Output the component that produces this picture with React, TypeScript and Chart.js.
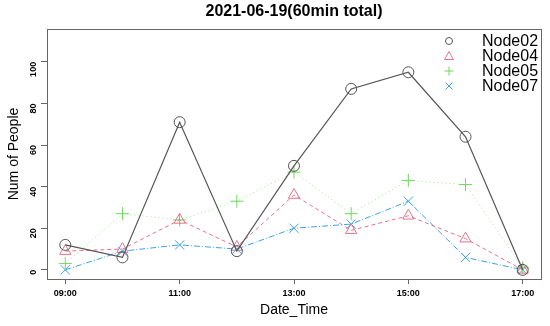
import React, { useEffect, useRef } from "react";
import { Chart, registerables } from "chart.js";

Chart.register(...registerables);

const categories = ["09:00", "10:00", "11:00", "12:00", "13:00", "14:00", "15:00", "16:00", "17:00"];
const hours = [9, 10, 11, 12, 13, 14, 15, 16, 17];
const node02 = [12, 6, 71, 9, 50, 87, 95, 64, 0];
const node04 = [9, 10, 24, 11, 36, 19, 26, 15, 0];
const node05 = [3, 27, 24, 33, 47, 27, 43, 41, 1];
const node07 = [0, 9, 12, 10, 20, 22, 33, 6, 0];
const xTickHours = [9, 11, 13, 15, 17];
const yTicks = [0, 20, 40, 60, 80, 100];
const titleText = "2021-06-19(60min total)";
const xTitle = "Date_Time";
const yTitle = "Num of People";

const FONT = "'Liberation Sans', Arial, sans-serif";

const seriesDefs = [
  { label: "Node02", data: node02, color: "#555555", line: "#555555", dash: [] as number[], style: "circle", width: 1.2 },
  { label: "Node04", data: node04, color: "#E5738A", line: "#E5738A", dash: [4, 3], style: "triangle", width: 1 },
  { label: "Node05", data: node05, color: "#6FD85C", line: "rgba(97,208,79,0.6)", dash: [1, 3], style: "cross", width: 1 },
  { label: "Node07", data: node07, color: "#3AA3EA", line: "#3AA3EA", dash: [6, 2, 1, 2], style: "crossRot", width: 1 },
];

const decorPlugin = {
  id: "decor",
  afterDraw(chart: any) {
    const { ctx, chartArea } = chart;
    const { left, right, top, bottom } = chartArea;
    ctx.save();
    ctx.strokeStyle = "#666666";
    ctx.lineWidth = 1;
    ctx.setLineDash([]);
    ctx.strokeRect(Math.round(left) + 0.5, Math.round(top) + 0.5, Math.round(right - left), Math.round(bottom - top));
    const cx = (left + right) / 2;
    ctx.fillStyle = "#000000";
    ctx.textAlign = "center";
    ctx.textBaseline = "middle";
    ctx.font = `bold 16px ${FONT}`;
    ctx.fillText(titleText, cx, 12);
    ctx.font = `14px ${FONT}`;
    ctx.fillText(xTitle, cx, 310);
    ctx.save();
    ctx.translate(14, (top + bottom) / 2);
    ctx.rotate(-Math.PI / 2);
    ctx.font = `14px ${FONT}`;
    ctx.fillText(yTitle, 0, 0);
    ctx.restore();
    ctx.textAlign = "left";
    ctx.font = `16px ${FONT}`;
    seriesDefs.forEach((s, i) => {
      const y = 41 + i * 15;
      ctx.fillStyle = "#000000";
      ctx.fillText(s.label, 482, y + 1);
      ctx.strokeStyle = s.color;
      ctx.lineWidth = 1;
      ctx.setLineDash([]);
      const x = 449;
      const r = 4.5;
      ctx.beginPath();
      if (s.style === "circle") {
        ctx.arc(x, y, 3.5, 0, Math.PI * 2);
      } else if (s.style === "triangle") {
        ctx.moveTo(x, y - 4.5);
        ctx.lineTo(x + 4.5, y + 3.5);
        ctx.lineTo(x - 4.5, y + 3.5);
        ctx.closePath();
      } else if (s.style === "cross") {
        ctx.moveTo(x - r, y);
        ctx.lineTo(x + r, y);
        ctx.moveTo(x, y - r);
        ctx.lineTo(x, y + r);
      } else {
        ctx.moveTo(x - 3.5, y - 3.5);
        ctx.lineTo(x + 3.5, y + 3.5);
        ctx.moveTo(x + 3.5, y - 3.5);
        ctx.lineTo(x - 3.5, y + 3.5);
      }
      ctx.stroke();
    });
    ctx.restore();
  },
};

export default function App() {
  const canvasRef = useRef<HTMLCanvasElement | null>(null);

  useEffect(() => {
    document.body.style.margin = "0";
    const canvas = canvasRef.current;
    if (!canvas) return;
    const chart = new Chart(canvas, {
      type: "line",
      data: {
        labels: categories,
        datasets: seriesDefs.map((s) => ({
          label: s.label,
          data: s.data.map((v, i) => ({ x: hours[i], y: v })),
          borderColor: s.line,
          backgroundColor: "transparent",
          borderWidth: s.width,
          borderDash: s.dash,
          pointStyle: s.style as any,
          pointRadius: s.style === "circle" ? 5.5 : 6.5,
          pointBorderWidth: 1,
          pointBorderColor: s.color,
          pointBackgroundColor: "transparent",
          tension: 0,
          fill: false,
        })),
      },
      options: {
        animation: false,
        responsive: false,
        maintainAspectRatio: false,
        layout: { padding: { top: 29, right: 9, left: 0, bottom: 0 } },
        plugins: {
          legend: { display: false },
          title: { display: false },
          tooltip: { enabled: false },
        },
        scales: {
          x: {
            type: "linear",
            min: 8.68,
            max: 17.32,
            afterBuildTicks: (scale: any) => {
              scale.ticks = xTickHours.map((v) => ({ value: v }));
            },
            afterFit: (scale: any) => {
              scale.height = 47;
            },
            ticks: {
              callback: (v: any) => categories[hours.indexOf(Number(v))] ?? "",
              font: { family: FONT, size: 9, weight: "bold" },
              color: "#000000",
              padding: 4,
              maxRotation: 0,
              minRotation: 0,
            },
            grid: { drawOnChartArea: false, drawTicks: true, tickLength: 5, color: "#666666" },
            border: { display: false },
          },
          y: {
            type: "linear",
            min: -4.4,
            max: 115.8,
            afterBuildTicks: (scale: any) => {
              scale.ticks = yTicks.map((v) => ({ value: v }));
            },
            afterFit: (scale: any) => {
              scale.width = 47;
            },
            ticks: {
              font: { family: FONT, size: 9, weight: "bold" },
              color: "#000000",
              padding: 7,
              minRotation: 90,
              maxRotation: 90,
            },
            grid: { drawOnChartArea: false, drawTicks: true, tickLength: 6, color: "#666666" },
            border: { display: false },
          },
        },
      },
      plugins: [decorPlugin],
    } as any);
    return () => chart.destroy();
  }, []);

  return (
    <div style={{ width: 550, height: 326, background: "#ffffff" }}>
      <canvas ref={canvasRef} width={550} height={326} style={{ display: "block" }} />
    </div>
  );
}
